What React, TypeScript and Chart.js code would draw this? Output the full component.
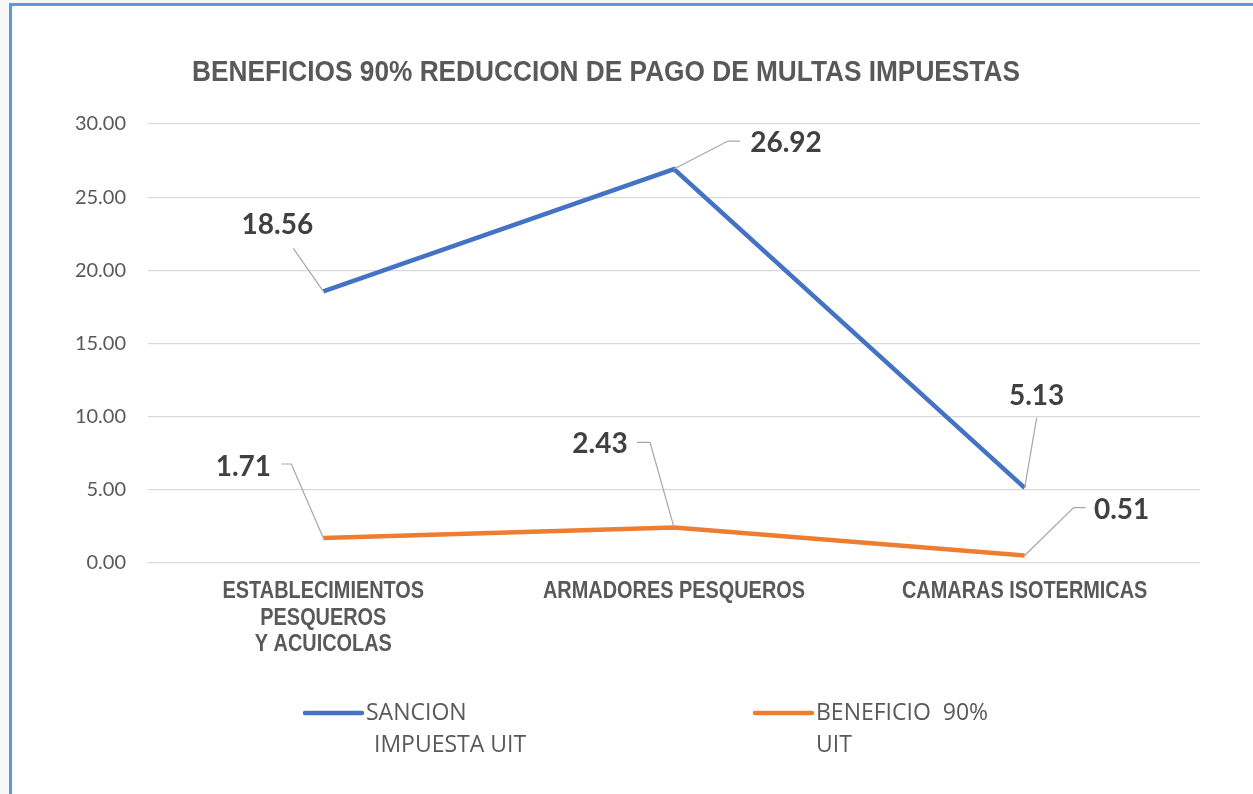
import React, { useEffect, useRef } from "react";
import { Chart, registerables } from "chart.js";

Chart.register(...registerables);

// ---------- data ----------
const categories: (string | string[])[] = [
  ["ESTABLECIMIENTOS", "PESQUEROS", "Y ACUICOLAS"],
  "ARMADORES PESQUEROS",
  "CAMARAS ISOTERMICAS",
];
const sancionValues = [18.56, 26.92, 5.13];
const beneficioValues = [1.71, 2.43, 0.51];
const seriesLabels = [
  ["SANCION", " IMPUESTA UIT"],
  ["BENEFICIO  90%", "UIT"],
];
const chartTitle = "BENEFICIOS 90% REDUCCION DE PAGO DE MULTAS IMPUESTAS";
const yMin = 0;
const yMax = 30;
const yStep = 5;

// ---------- styling / layout constants ----------
const W = 1253;
const H = 794;
const BLUE = "#4472C4";
const ORANGE = "#ED7D31";
const TEXT_GRAY = "#595959";
const LABEL_DARK = "#404040";
const SANS = "'Liberation Sans', Arial, sans-serif";
const TITLE_NARROW = 0.905;
const CAT_NARROW = 0.865;

// label placements per series/point: text centre offset, leader polyline offsets (from data point)
const labelPlacement = [
  [
    { text: [-46, -66], leader: [[0, 0], [-30, -43]] },
    { text: [112, -26], leader: [[0, 0], [54, -28], [66, -28]] },
    { text: [12, -92], leader: [[0, 0], [12, -70]] },
  ],
  [
    { text: [-80, -71], leader: [[0, 0], [-32, -74], [-42, -74]] },
    { text: [-74, -83], leader: [[0, 0], [-24, -85], [-37, -85]] },
    { text: [97, -46], leader: [[0, 0], [49, -48], [61, -48]] },
  ],
];

const legendPlacement = [
  { line: [305, 362, 713], text: [[366, 713], [374, 745]] },
  { line: [755, 812, 713], text: [[816, 713], [816, 745]] },
];

function narrowText(ctx: CanvasRenderingContext2D, s: string, x: number, y: number, f: number) {
  const w = ctx.measureText(s).width;
  ctx.fillText(s, x, y, w * f);
}

const decorPlugin = {
  id: "decor",
  afterDatasetsDraw(chart: any) {
    const ctx = chart.ctx as CanvasRenderingContext2D;
    ctx.save();
    chart.data.datasets.forEach((ds: any, di: number) => {
      const meta = chart.getDatasetMeta(di);
      meta.data.forEach((pt: any, i: number) => {
        const place = labelPlacement[di][i];
        ctx.beginPath();
        place.leader.forEach((o: number[], k: number) => {
          const x = pt.x + o[0];
          const y = pt.y + o[1];
          if (k === 0) ctx.moveTo(x, y);
          else ctx.lineTo(x, y);
        });
        ctx.strokeStyle = "#A6A6A6";
        ctx.lineWidth = 1.2;
        ctx.stroke();
        ctx.fillStyle = LABEL_DARK;
        ctx.font = "bold 28px Lato, 'Open Sans', sans-serif";
        ctx.textAlign = "center";
        ctx.textBaseline = "middle";
        ctx.fillText(
          Number(ds.data[i]).toFixed(2),
          pt.x + place.text[0],
          pt.y + place.text[1]
        );
      });
    });
    ctx.restore();
  },
  afterDraw(chart: any) {
    const ctx = chart.ctx as CanvasRenderingContext2D;
    ctx.save();
    // title
    ctx.fillStyle = TEXT_GRAY;
    ctx.font = `bold 29px ${SANS}`;
    ctx.textAlign = "center";
    ctx.textBaseline = "middle";
    narrowText(ctx, chartTitle, 606, 73, TITLE_NARROW);
    // category labels
    const xs = chart.scales.x;
    const area = chart.chartArea;
    ctx.font = `bold 23px ${SANS}`;
    (chart.data.labels as any[]).forEach((lab: any, i: number) => {
      const lines = Array.isArray(lab) ? lab : [lab];
      const x = xs.getPixelForTick(i);
      lines.forEach((ln: string, li: number) => {
        narrowText(ctx, ln, x, area.bottom + 29 + li * 26.5, CAT_NARROW);
      });
    });
    // legend
    chart.data.datasets.forEach((ds: any, di: number) => {
      const p = legendPlacement[di];
      ctx.beginPath();
      ctx.moveTo(p.line[0], p.line[2]);
      ctx.lineTo(p.line[1], p.line[2]);
      ctx.strokeStyle = ds.borderColor;
      ctx.lineWidth = 4.5;
      ctx.lineCap = "round";
      ctx.stroke();
      ctx.fillStyle = TEXT_GRAY;
      ctx.font = "23px 'Open Sans', 'Noto Sans', sans-serif";
      ctx.textAlign = "left";
      ctx.textBaseline = "middle";
      (ds.label as string[]).forEach((line: string, li: number) => {
        ctx.fillText(line.trim(), p.text[li][0], p.text[li][1]);
      });
    });
    ctx.restore();
  },
};

export default function App() {
  const canvasRef = useRef<HTMLCanvasElement | null>(null);

  useEffect(() => {
    document.body.style.margin = "0";
    const canvas = canvasRef.current;
    if (!canvas) return;
    const chart = new Chart(canvas, {
      type: "line",
      data: {
        labels: categories,
        datasets: [
          {
            label: seriesLabels[0] as any,
            data: sancionValues,
            borderColor: BLUE,
            backgroundColor: BLUE,
            borderWidth: 4.5,
            pointRadius: 0,
            tension: 0,
            order: 1,
          },
          {
            label: seriesLabels[1] as any,
            data: beneficioValues,
            borderColor: ORANGE,
            backgroundColor: ORANGE,
            borderWidth: 4.5,
            pointRadius: 0,
            tension: 0,
            order: 0,
          },
        ],
      },
      options: {
        responsive: false,
        animation: false,
        events: [],
        layout: { padding: { left: 0, right: 53, top: 124, bottom: 0 } },
        plugins: {
          legend: { display: false },
          title: { display: false },
          tooltip: { enabled: false },
        },
        scales: {
          x: {
            offset: true,
            grid: { display: false, drawTicks: false },
            border: { display: false },
            ticks: { display: false, autoSkip: false },
            afterFit: (s: any) => {
              s.height = 231;
            },
          },
          y: {
            min: yMin,
            max: yMax,
            grid: { color: "#D9D9D9", lineWidth: 1.3, drawTicks: false },
            border: { display: false },
            ticks: {
              stepSize: yStep,
              color: TEXT_GRAY,
              padding: 22,
              font: { family: "Lato, 'Open Sans', sans-serif", size: 20 },
              callback: (v: any) => Number(v).toFixed(2),
            },
            afterFit: (s: any) => {
              s.width = 148;
            },
          },
        },
      },
      plugins: [decorPlugin],
    });
    return () => chart.destroy();
  }, []);

  return (
    <div style={{ position: "absolute", left: 0, top: 0, width: W, height: H, background: "#F7F7F7", overflow: "hidden" }}>
      <div
        style={{
          position: "absolute",
          left: 9,
          top: 3,
          width: W - 9,
          height: H - 3,
          background: "#FFFFFF",
          borderLeft: "3px solid #5B9BD5",
          borderTop: "3px solid #5B9BD5",
          boxSizing: "border-box",
        }}
      />
      <canvas
        ref={canvasRef}
        width={W}
        height={H}
        style={{ position: "absolute", left: 0, top: 0, width: W, height: H }}
      />
    </div>
  );
}
